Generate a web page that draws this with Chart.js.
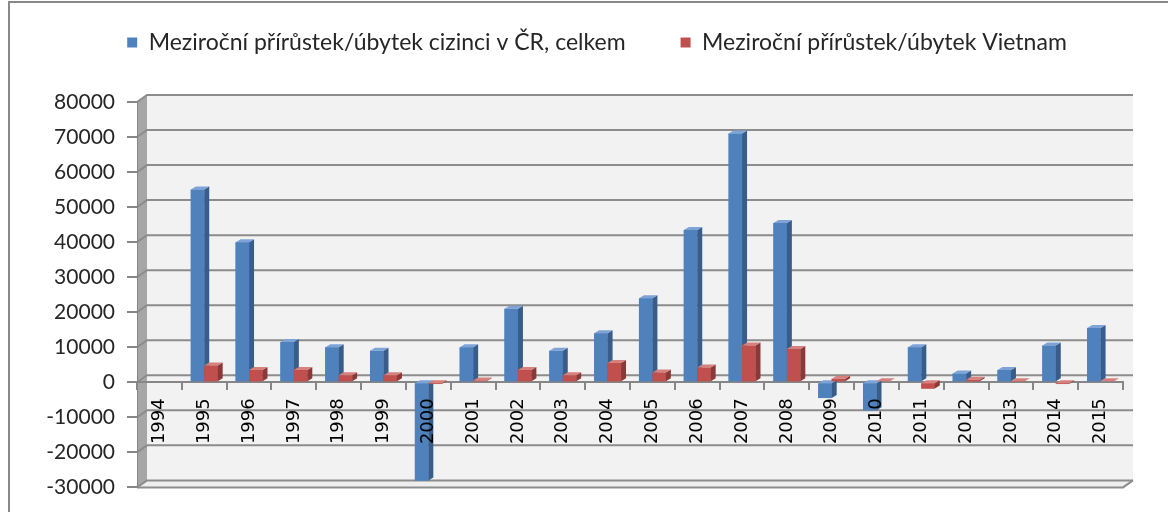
<!DOCTYPE html>
<html>
<head>
<meta charset="utf-8">
<script src="https://cdn.jsdelivr.net/npm/chart.js@4/dist/chart.umd.min.js"></script>
<style>
  html, body { margin: 0; padding: 0; background: #fff; }
</style>
</head>
<body>
<canvas id="myChart" width="1168" height="512"></canvas>
<script>
// years on the x axis
const years = ['1994', '1995', '1996', '1997', '1998', '1999', '2000', '2001', '2002', '2003', '2004',
  '2005', '2006', '2007', '2008', '2009', '2010', '2011', '2012', '2013', '2014', '2015'];

// year-on-year change, all foreigners in CZ
const totalChange = [null, 55000, 40000, 11500, 10000, 9000, -28000, 10000, 21000, 9000, 14000,
  24000, 43500, 71000, 45500, -4500, -8000, 10000, 2500, 3500, 10500, 15500];

// year-on-year change, Vietnam
const vietnamChange = [null, 4800, 3500, 3500, 2000, 2000, -500, 500, 3500, 2000, 5500,
  2800, 4200, 10500, 9500, 1000, 300, -1800, 700, 200, -500, 300];

// value axis
const yMin = -30000;
const yMax = 80000;
const yStep = 10000;

const wallDepth = { x: 10, y: 7 };
const barDepth = { x: 5, y: 3 };

function poly(ctx, pts, fill) {
  ctx.beginPath();
  ctx.moveTo(pts[0][0], pts[0][1]);
  for (let i = 1; i < pts.length; i++) ctx.lineTo(pts[i][0], pts[i][1]);
  ctx.closePath();
  ctx.fillStyle = fill;
  ctx.fill();
}

// back wall, side wall, floor and gridlines of the fake 3D box
const walls = {
  id: 'walls',
  beforeDraw(chart) {
    const { ctx, chartArea: a } = chart;
    const y = chart.scales.y;
    const dx = wallDepth.x, dy = wallDepth.y;
    ctx.save();

    // outer frame
    ctx.strokeStyle = '#888';
    ctx.lineWidth = 2;
    ctx.beginPath();
    ctx.moveTo(9, 512);
    ctx.lineTo(9, 2);
    ctx.lineTo(1168, 2);
    ctx.stroke();

    // back wall
    ctx.fillStyle = '#f2f2f2';
    ctx.fillRect(a.left + dx, a.top - dy, a.width, a.height);
    // floor
    poly(ctx, [[a.left, a.bottom], [a.left + dx, a.bottom - dy], [a.right + dx, a.bottom - dy], [a.right, a.bottom]], '#eeeeee');
    // left wall
    poly(ctx, [[a.left, a.top], [a.left + dx, a.top - dy], [a.left + dx, a.bottom - dy], [a.left, a.bottom]], '#a6a6a6');

    // gridlines on the back wall
    ctx.strokeStyle = '#8c8c8c';
    ctx.lineWidth = 2;
    y.ticks.forEach((t) => {
      const py = y.getPixelForValue(t.value);
      ctx.beginPath();
      ctx.moveTo(a.left, py);
      ctx.lineTo(a.left + dx, py - dy);
      ctx.lineTo(a.right + dx, py - dy);
      ctx.stroke();
    });

    // front edge of the floor
    ctx.beginPath();
    ctx.moveTo(a.left, a.bottom);
    ctx.lineTo(a.right, a.bottom);
    ctx.lineTo(a.right + dx, a.bottom - dy);
    ctx.stroke();
    ctx.restore();
  }
};

// side and top faces of each bar
const bars3d = {
  id: 'bars3d',
  afterDatasetsDraw(chart) {
    const ctx = chart.ctx;
    const dx = barDepth.x, dy = barDepth.y;
    ctx.save();
    chart.data.datasets.forEach((ds, i) => {
      const meta = chart.getDatasetMeta(i);
      meta.data.forEach((bar, j) => {
        if (ds.data[j] == null) return;
        const p = bar.getProps(['x', 'y', 'base', 'width'], true);
        const l = p.x - p.width / 2, r = p.x + p.width / 2;
        const t = Math.min(p.y, p.base), b = Math.max(p.y, p.base);
        bar.draw(ctx);
        poly(ctx, [[r, t], [r + dx, t - dy], [r + dx, b - dy], [r, b]], ds.sideColor);
        poly(ctx, [[l, t], [l + dx, t - dy], [r + dx, t - dy], [r, t]], ds.topColor);
      });
    });
    ctx.restore();
  }
};

// fixed room for the legend above the plot, one row, centred a bit to the right
const legendSpace = {
  id: 'legendSpace',
  beforeInit(chart) {
    const fit = chart.legend.fit;
    chart.legend.fit = function () {
      this.maxWidth = this.chart.width;
      fit.call(this);
      this.height = 126;
    };
  },
  afterLayout(chart) {
    chart.legend.left = 26;
    chart.legend.right = chart.width;
  }
};

let ctx = document.getElementById('myChart').getContext('2d');

new Chart(ctx, {
  type: 'bar',
  data: {
    labels: years,
    datasets: [
      {
        label: 'Meziroční přírůstek/úbytek cizinci v ČR, celkem',
        data: totalChange,
        backgroundColor: '#4f81bd',
        sideColor: '#385d8a',
        topColor: '#7ea3d6',
        borderWidth: 0,
        categoryPercentage: 0.6,
        barPercentage: 1.0,
      },
      {
        label: 'Meziroční přírůstek/úbytek Vietnam',
        data: vietnamChange,
        backgroundColor: '#c0504d',
        sideColor: '#8c3836',
        topColor: '#d6817e',
        borderWidth: 0,
        categoryPercentage: 0.6,
        barPercentage: 1.0,
      },
    ],
  },
  options: {
    responsive: false,
    animation: false,
    devicePixelRatio: 1,
    layout: { padding: { top: -24, left: 10, right: 45, bottom: 24 } },
    plugins: {
      tooltip: { enabled: false },
      legend: {
        position: 'top',
        labels: {
          boxWidth: 10,
          boxHeight: 10,
          padding: 55,
          color: '#262626',
          font: { family: 'Lato', size: 23 },
        },
      },
    },
    scales: {
      x: {
        position: { y: 0 },
        offset: true,
        grid: { display: true, drawOnChartArea: false, offset: true, tickLength: 7, color: '#868686', lineWidth: 2 },
        border: { display: true, color: '#868686', width: 2 },
        ticks: {
          z: 1,
          minRotation: 90,
          maxRotation: 90,
          autoSkip: false,
          padding: 9,
          color: '#000',
          font: { family: 'DejaVu Sans', size: 18 },
        },
      },
      y: {
        min: yMin,
        max: yMax,
        afterFit(scale) { scale.width = 127; },
        grid: { drawOnChartArea: false, tickLength: 10, color: '#868686', lineWidth: 2 },
        border: { display: true, color: '#868686', width: 1 },
        ticks: {
          stepSize: yStep,
          padding: 12,
          color: '#262626',
          font: { family: 'Lato', size: 21 },
          callback: (v) => String(v),
        },
      },
    },
  },
  plugins: [walls, bars3d, legendSpace],
});
</script>
</body>
</html>
